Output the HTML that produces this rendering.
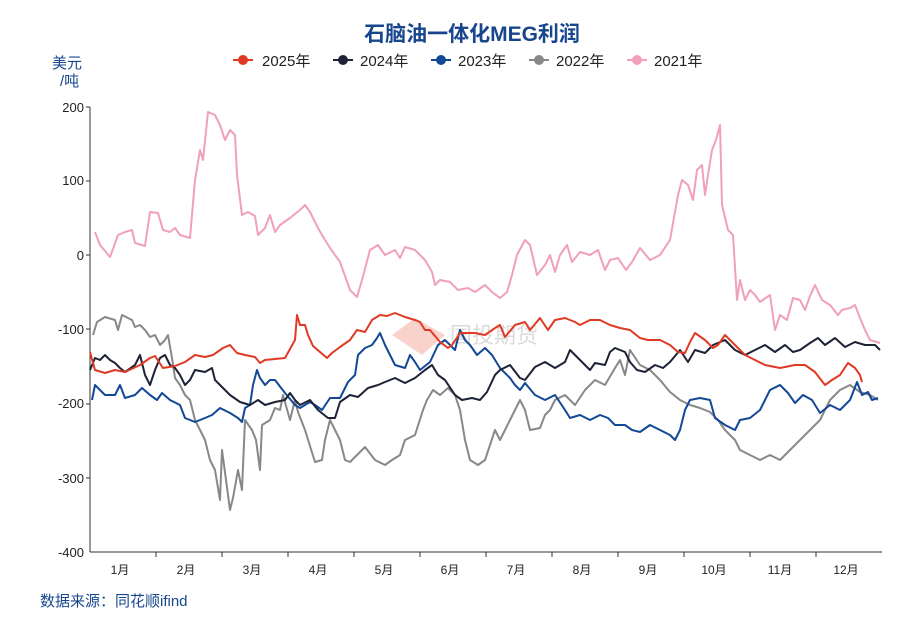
<!DOCTYPE html>
<html><head><meta charset="utf-8"><style>
body{margin:0;background:#fff;width:911px;height:616px;overflow:hidden;font-family:"Liberation Sans","Noto Sans CJK SC",sans-serif}
svg text{font-family:"Liberation Sans","Noto Sans CJK SC",sans-serif}
</style></head><body>
<svg width="911" height="616" viewBox="0 0 911 616" xmlns="http://www.w3.org/2000/svg">
<text x="472" y="41" text-anchor="middle" font-size="21" font-weight="bold" fill="#17468c">石脑油一体化MEG利润</text>
<g font-size="15" fill="#222">
<line x1="233" y1="60" x2="253" y2="60" stroke="#e03a24" stroke-width="2"/><circle cx="243" cy="60" r="5" fill="#e03a24"/><text x="262" y="66">2025年</text>
<line x1="333" y1="60" x2="353" y2="60" stroke="#1e2236" stroke-width="2"/><circle cx="343" cy="60" r="5" fill="#1e2236"/><text x="360" y="66">2024年</text>
<line x1="431" y1="60" x2="451" y2="60" stroke="#124896" stroke-width="2"/><circle cx="441" cy="60" r="5" fill="#124896"/><text x="458" y="66">2023年</text>
<line x1="529" y1="60" x2="549" y2="60" stroke="#888" stroke-width="2"/><circle cx="539" cy="60" r="5" fill="#888"/><text x="556" y="66">2022年</text>
<line x1="627" y1="60" x2="647" y2="60" stroke="#f0a0b8" stroke-width="2"/><circle cx="637" cy="60" r="5" fill="#f0a0b8"/><text x="654" y="66">2021年</text>
</g>
<text x="52" y="68" font-size="15" fill="#17468c">美元</text>
<text x="60" y="86" font-size="15" fill="#17468c">/吨</text>
<g font-size="13" fill="#222" text-anchor="end">
<text x="84" y="112">200</text><text x="84" y="185">100</text><text x="84" y="260">0</text>
<text x="84" y="334">-100</text><text x="84" y="408">-200</text><text x="84" y="483">-300</text><text x="84" y="557">-400</text>
</g>
<g stroke="#333" stroke-width="1">
<line x1="90" y1="107" x2="90" y2="552"/><line x1="90" y1="552" x2="882" y2="552"/>
<line x1="86" y1="107" x2="90" y2="107"/><line x1="86" y1="181" x2="90" y2="181"/><line x1="86" y1="255" x2="90" y2="255"/><line x1="86" y1="329" x2="90" y2="329"/><line x1="86" y1="404" x2="90" y2="404"/><line x1="86" y1="478" x2="90" y2="478"/>
<line x1="156" y1="552" x2="156" y2="557"/><line x1="222" y1="552" x2="222" y2="557"/><line x1="288" y1="552" x2="288" y2="557"/><line x1="354" y1="552" x2="354" y2="557"/><line x1="420" y1="552" x2="420" y2="557"/><line x1="486" y1="552" x2="486" y2="557"/><line x1="552" y1="552" x2="552" y2="557"/><line x1="618" y1="552" x2="618" y2="557"/><line x1="684" y1="552" x2="684" y2="557"/><line x1="750" y1="552" x2="750" y2="557"/><line x1="816" y1="552" x2="816" y2="557"/>
</g>
<g font-size="12" fill="#222" text-anchor="middle">
<text x="120" y="574">1月</text><text x="186" y="574">2月</text><text x="252" y="574">3月</text><text x="318" y="574">4月</text><text x="384" y="574">5月</text><text x="450" y="574">6月</text><text x="516" y="574">7月</text><text x="582" y="574">8月</text><text x="648" y="574">9月</text><text x="714" y="574">10月</text><text x="780" y="574">11月</text><text x="846" y="574">12月</text>
</g>
<g opacity="0.35"><polygon points="392,335 415,318 445,335 422,355" fill="#f08070"/><text x="450" y="343" font-size="22" fill="#999">国投期货</text></g>
<g fill="none" stroke-width="2" stroke-linejoin="round">
<polyline stroke="#f0a0b8" points="95,232 100,245 110,257 118,235 125,232 132,230 135,243 145,246 150,212 158,213 163,230 170,232 175,228 180,235 190,238 195,180 200,150 203,160 208,112 215,115 220,125 225,140 230,130 235,135 237,175 242,215 248,212 255,216 258,235 265,228 270,215 275,232 280,225 290,218 300,210 305,205 310,212 318,228 325,240 330,248 340,262 350,290 357,297 362,280 370,250 378,245 385,255 395,250 400,258 405,247 415,250 425,260 432,272 435,285 440,280 450,282 458,290 468,288 475,292 485,285 492,292 500,298 507,292 512,275 517,255 525,240 530,245 537,275 545,265 550,255 555,272 560,255 567,245 572,262 580,252 590,255 598,250 605,270 610,260 618,258 626,270 632,262 640,248 650,260 660,255 670,240 678,195 682,180 688,185 693,200 697,170 702,165 705,195 708,175 712,150 716,140 720,125 722,205 728,230 733,235 737,300 740,280 745,300 750,290 755,295 760,302 770,295 775,330 780,315 787,320 793,298 800,300 805,310 810,296 815,285 822,300 830,305 838,315 842,310 850,308 855,305 860,318 865,330 870,340 880,343"/>
<polyline stroke="#888" points="93,335 97,322 105,317 115,320 118,330 122,315 128,318 132,320 135,327 140,325 145,330 150,337 155,335 160,345 165,340 168,335 172,358 175,378 180,385 185,395 190,400 195,420 200,430 205,440 210,460 215,470 220,500 222,450 226,480 230,510 233,498 238,470 242,490 245,420 252,430 256,440 260,470 262,425 270,420 275,408 280,410 283,395 290,420 295,400 298,412 305,430 315,462 322,460 325,440 330,420 335,430 340,440 345,460 350,462 357,455 365,447 375,460 385,465 392,460 400,455 405,440 415,435 423,410 427,400 433,390 440,395 448,388 455,395 460,410 465,440 470,460 478,465 485,460 490,445 495,430 500,440 505,430 510,420 520,400 525,410 530,430 540,428 545,415 550,410 555,400 565,395 575,405 585,390 595,380 605,385 615,368 620,360 625,375 630,350 640,365 650,370 660,380 670,392 680,400 690,405 700,408 710,412 718,420 725,430 735,440 740,450 750,455 760,460 770,455 780,460 790,450 800,440 810,430 820,420 830,400 840,390 850,385 860,392 870,395 878,400"/>
<polyline stroke="#124896" points="92,400 95,385 105,395 115,395 120,385 125,398 135,395 142,388 150,395 157,400 162,393 170,400 180,405 185,418 195,422 205,418 212,415 220,408 230,413 238,418 242,422 245,408 250,405 253,385 257,370 260,378 265,385 270,380 275,380 285,393 295,405 300,408 310,402 315,405 322,410 330,398 340,398 348,382 355,375 358,355 365,348 372,345 377,338 380,333 385,345 395,365 405,368 410,355 415,362 420,370 430,362 438,345 445,340 450,345 455,350 460,330 465,340 470,345 477,355 485,348 492,355 500,368 510,378 515,385 520,390 525,383 535,395 545,400 555,395 565,410 570,418 580,415 590,420 600,415 608,418 615,425 625,425 632,430 640,432 650,425 660,430 670,435 675,440 680,430 685,410 690,400 700,398 710,400 715,418 725,425 735,430 740,420 750,418 760,410 770,390 780,385 788,393 795,403 803,395 812,400 820,413 830,405 840,410 850,400 857,382 862,395 868,392 872,400 878,398"/>
<polyline stroke="#1e2236" points="90,370 95,358 100,360 105,355 110,360 115,363 120,368 125,372 135,365 140,355 145,375 150,385 155,370 160,358 165,355 170,365 175,368 180,375 185,385 190,380 195,370 205,372 212,368 215,380 220,385 230,395 240,402 250,405 258,400 265,405 275,402 285,400 290,393 295,400 300,405 310,400 318,410 328,418 335,418 340,402 350,395 358,397 368,388 378,385 385,382 395,378 405,383 415,378 425,370 432,365 438,375 445,380 455,395 462,400 472,398 480,400 487,392 495,375 500,370 510,365 520,378 525,380 535,367 545,362 555,368 565,362 570,350 580,360 590,370 595,363 605,365 610,352 615,348 625,352 630,362 637,370 645,372 655,365 663,368 670,362 680,350 688,362 695,350 705,353 713,345 725,340 735,350 745,355 755,350 765,345 775,352 785,345 793,352 800,350 810,343 818,338 825,345 835,338 845,347 855,342 865,345 875,345 880,350"/>
<polyline stroke="#e03a24" points="90,352 95,370 105,373 115,370 125,372 140,365 150,358 155,356 163,368 175,366 185,362 195,355 205,357 213,355 223,348 230,345 237,353 245,355 255,357 260,363 265,360 285,358 295,340 297,315 300,325 305,325 308,335 313,346 320,352 327,358 332,353 340,347 350,340 357,330 365,332 372,320 380,315 387,316 395,313 405,317 415,320 420,322 425,330 430,330 440,342 448,348 452,345 460,333 475,333 485,335 495,328 500,325 505,337 515,325 525,322 530,330 540,318 548,330 555,320 565,318 575,322 580,325 590,320 600,320 610,325 620,328 630,330 640,338 648,340 660,340 670,345 678,352 685,353 690,342 695,333 705,340 713,348 718,345 725,335 735,345 745,355 755,360 765,365 780,368 795,365 805,365 815,372 825,385 832,380 840,375 848,363 855,368 860,375 862,382"/>
</g>
<text x="40" y="606" font-size="15" fill="#17468c">数据来源：同花顺ifind</text>
</svg>
</body></html>
